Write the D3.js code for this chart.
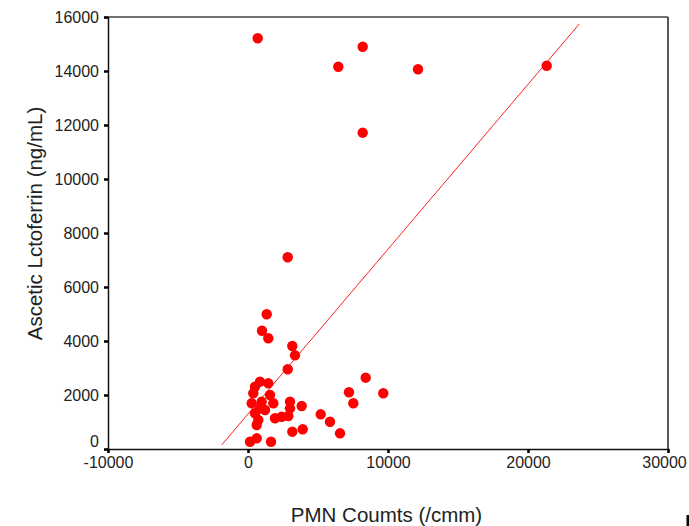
<!DOCTYPE html>
<html><head><meta charset="utf-8">
<script src="https://cdn.jsdelivr.net/npm/d3@7"></script>
<style>
html,body{margin:0;padding:0;background:#fff;}
svg{display:block;}
text{font-family:"Liberation Sans",Arial,sans-serif;fill:#222;}
</style></head>
<body>
<script>
const pmn = [693,8193,6450,12143,21336,8193,2836,1336,1000,1450,3164,3357,2836,8407,7214,9664,7521,3836,5193,5857,3907,6571,3000,3000,1929,2407,2879,3164,143,621,1643,857,1450,500,379,1571,979,264,1807,857,500,736,621,1214];
const lacto = [15212,14900,14159,14063,14196,11715,7100,4989,4381,4100,3815,3470,2952,2641,2100,2063,1693,1593,1285,1011,730,581,1752,1507,1137,1196,1222,641,270,396,270,2493,2433,2307,2063,2000,1752,1693,1693,1507,1322,1074,889,1444];
const fitX = [-1880, 23660];
const fitY = [150, 15740];
const xTicks = [-10000,0,10000,20000,30000];
const yTicks = [0,2000,4000,6000,8000,10000,12000,14000,16000];
const xTitle = "PMN Coumts (/cmm)";
const yTitle = "Ascetic Lctoferrin (ng/mL)";

const W=689,H=526;
const L=108,R=668,T=17,B=449;
const svg=d3.select("body").append("svg").attr("width",W).attr("height",H);
const x=d3.scaleLinear().domain([-10000,30000]).range([L,R]);
const y=d3.scaleLinear().domain([0,16000]).range([B,T]);
const fmt=d=>String(d);

// frame
svg.append("line").attr("x1",L).attr("x2",R).attr("y1",T).attr("y2",T).attr("stroke","#444").attr("stroke-width",1.5);
svg.append("line").attr("x1",R).attr("x2",R).attr("y1",T).attr("y2",B).attr("stroke","#222").attr("stroke-width",1.5);

const xa=svg.append("g").attr("transform",`translate(0,${B})`)
  .call(d3.axisBottom(x).tickValues(xTicks).tickSize(4).tickPadding(4).tickFormat(fmt));
const ya=svg.append("g").attr("transform",`translate(${L},0)`)
  .call(d3.axisLeft(y).tickValues(yTicks).tickSize(4).tickPadding(5).tickFormat(fmt));
[xa,ya].forEach(g=>{
  g.select(".domain").attr("stroke","#111").attr("stroke-width",1.5);
  g.selectAll(".tick line").attr("stroke","#000").attr("stroke-width",2.5);
  g.selectAll(".tick text").style("font-family",'"Liberation Sans",Arial,sans-serif').style("font-size","16px").attr("fill","#222");
});
ya.selectAll(".tick").filter(d=>d===0).select("text").attr("dy","-0.18em");
xa.selectAll(".tick").filter(d=>d===30000).select("text").attr("dx","-4");

// fit line
svg.append("line").attr("x1",x(fitX[0])).attr("y1",y(fitY[0])).attr("x2",x(fitX[1])).attr("y2",y(fitY[1]))
  .attr("stroke","#ff2020").attr("stroke-width",1);

// points
svg.append("g").selectAll("circle").data(pmn.map((v,i)=>[v,lacto[i]])).join("circle")
  .attr("cx",d=>x(d[0])).attr("cy",d=>y(d[1])).attr("r",5.2).attr("fill","#ff0000");

// titles
svg.append("text").attr("x",386.5).attr("y",522).attr("text-anchor","middle").style("font-size","20.5px").text(xTitle);
svg.append("text").attr("transform","translate(41.5,223.5) rotate(-90)").attr("text-anchor","middle").style("font-size","20.5px").text(yTitle);

// small mark at bottom right
svg.append("rect").attr("x",686.5).attr("y",515).attr("width",2.5).attr("height",11).attr("fill","#000");
</script>
</body></html>
